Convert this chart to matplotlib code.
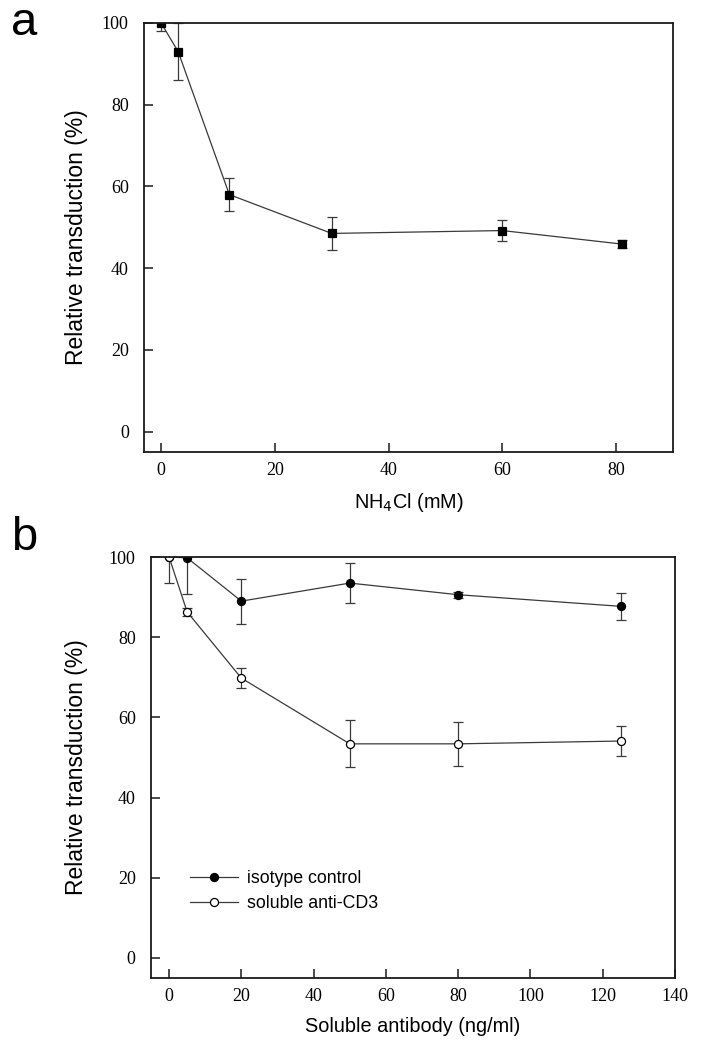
import matplotlib
matplotlib.use("Agg")
import matplotlib.pyplot as plt

SERIF = "Liberation Serif"
SANS = "Liberation Sans"
INK = "#1a1a1a"
LINE = "#3a3a3a"

# panel a: NH4Cl titration
nh4cl_mm = [0, 3, 12, 30, 60, 81]
nh4cl_rel = [100, 93, 58, 48.5, 49.2, 45.9]
nh4cl_err = [2, 7, 4, 4, 2.6, 1]

# panel b: soluble antibody titration
ab_conc = [0, 5, 20, 50, 80, 125]
isotype_rel = [100, 99.8, 89, 93.5, 90.6, 87.7]
isotype_err = [0, 9, 5.6, 5, 0.8, 3.3]
cd3_rel = [100, 86.3, 69.8, 53.4, 53.4, 54.1]
cd3_err = [6.5, 1, 2.5, 5.9, 5.5, 3.8]

xticks_a = [0, 20, 40, 60, 80]
xticks_b = [0, 20, 40, 60, 80, 100, 120, 140]
yticks = [0, 20, 40, 60, 80, 100]

fig = plt.figure(figsize=(7.05, 10.5), dpi=100)
ax_a = fig.add_axes([0.2043, 0.5695, 0.7503, 0.4086])
ax_b = fig.add_axes([0.2142, 0.0686, 0.7432, 0.4009])


def style(ax, xticks, xlim, xlabel):
    ax.set_xlim(*xlim)
    ax.set_ylim(-5, 100)
    ax.set_xticks(xticks)
    ax.set_yticks(yticks)
    ax.tick_params(direction="in", length=6.5, width=1.1, color=INK,
                   labelsize=13, top=False, right=False)
    ax.tick_params(axis="x", pad=7)
    ax.tick_params(axis="y", pad=11)
    for lab in ax.get_xticklabels() + ax.get_yticklabels():
        lab.set_fontfamily(SERIF)
    for s in ax.spines.values():
        s.set_linewidth(1.3)
        s.set_color(INK)
    ax.set_ylabel("Relative transduction (%)", fontsize=16.5, family=SANS)
    ax.set_xlabel(xlabel, fontsize=14.3, family=SANS, labelpad=9)


eb_kw = dict(color=LINE, lw=0.9, elinewidth=0.9, capsize=3.5, capthick=0.9,
             markersize=5.8, markeredgecolor="black", markeredgewidth=0.9)

ax_a.errorbar(nh4cl_mm, nh4cl_rel, yerr=nh4cl_err, marker="s",
              markerfacecolor="black", **eb_kw)
style(ax_a, xticks_a, (-3, 90), r"NH$_4$Cl (mM)")
ax_a.yaxis.set_label_coords(-0.106, 0.5)

iso = ax_b.errorbar(ab_conc, isotype_rel, yerr=isotype_err, marker="o",
                    markerfacecolor="black", label="isotype control", **eb_kw)
cd3 = ax_b.errorbar(ab_conc, cd3_rel, yerr=cd3_err, marker="o",
                    markerfacecolor="white", label="soluble anti-CD3", **eb_kw)
style(ax_b, xticks_b, (-5, 140), "Soluble antibody (ng/ml)")
ax_b.yaxis.set_label_coords(-0.120, 0.5)

ax_b.legend(handles=[iso[0], cd3[0]], labels=["isotype control", "soluble anti-CD3"],
            loc="upper left", bbox_to_anchor=(0.074, 0.256), frameon=False,
            borderpad=0, borderaxespad=0, handlelength=2.7, handletextpad=0.5,
            labelspacing=0.45, prop={"family": SANS, "size": 12.8})

fig.text(0.015, 0.9667, "a", fontsize=34, family=SANS, va="baseline")
fig.text(0.015, 0.476, "b", fontsize=34, family=SANS, va="baseline")

fig.savefig("out.png", dpi=100)
